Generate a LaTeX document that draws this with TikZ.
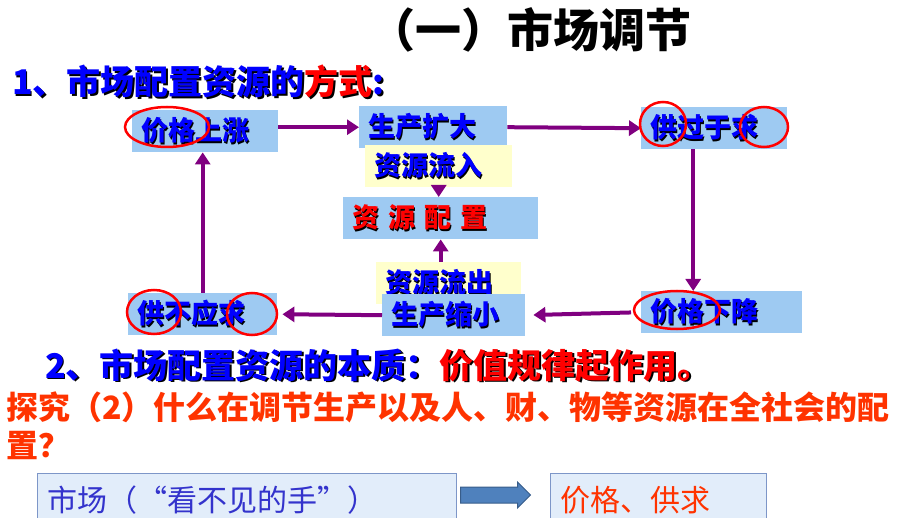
\documentclass[tikz,border=0pt]{standalone}
\usepackage{fontspec}
\setmainfont{Noto Sans CJK SC}
\usetikzlibrary{arrows.meta,shapes.arrows}
\definecolor{boxblue}{RGB}{158,202,242}
\definecolor{boxyellow}{RGB}{255,255,204}
\definecolor{flowpurple}{RGB}{128,0,128}
\definecolor{txtblue}{RGB}{0,0,255}
\definecolor{askred}{RGB}{255,51,0}
\definecolor{handblue}{RGB}{51,51,204}
\definecolor{paneledge}{RGB}{125,150,200}
\definecolor{panelfill}{RGB}{226,237,250}
\definecolor{bigarrow}{RGB}{79,129,189}
\definecolor{bigarrowedge}{RGB}{56,93,138}
\newcommand{\shad}[2]{\leavevmode\rlap{\hspace{1.6pt}\raisebox{-1.6pt}{\color{black}#2}}{\color{#1}#2}}
\tikzset{
  box/.style={fill=boxblue, anchor=north west, minimum height=42pt, inner xsep=9pt, inner ysep=0pt,
    text width=#1, align=left, font=\fontsize{27}{30}\selectfont\bfseries},
  ybox/.style={box=#1, fill=boxyellow},
  flow/.style={draw=flowpurple, line width=4pt, -{Triangle[length=12pt,width=15pt]}},
  ring/.style={draw=red, line width=2.5pt},
  head/.style={anchor=base west, inner sep=0pt},
  panel/.style={draw=paneledge, fill=panelfill, line width=1pt, anchor=north west, minimum height=54pt,
    inner xsep=10pt, text width=#1, align=left, font=\fontsize{30}{34}\selectfont}
}
\begin{document}
\begin{tikzpicture}[x=1pt,y=-1pt]
			\useasboundingbox (0,0) rectangle (920,518);

			\node[head, font=\fontsize{46}{50}\selectfont\bfseries] (title)at(369,48) {（一）市场调节};
			\node[head, font=\fontsize{34}{38}\selectfont\bfseries] (way)at(12,95) {\shad{txtblue}{1、市场配置资源的}\shad{red}{方式}\shad{txtblue}{:}};

			\node[box=128pt] (zhang)at(132,110) {\shad{txtblue}{价格上涨}};
			\node[box=130pt] (kuoda)at(359,106) {\shad{txtblue}{生产扩大}};
			\node[ybox=129pt] (liuru)at(365,145) {\shad{txtblue}{资源流入}};
			\node[box=177pt] (peizhi)at(343,197) {\shad{red}{资\hspace{9pt}源\hspace{9pt}配\hspace{9pt}置}};
			\node[box=128pt] (gongguo)at(641,107) {\shad{txtblue}{供过于求}};
			\node[box=143pt] (xiajiang)at(641,291) {\shad{txtblue}{价格下降}};
			\node[ybox=127pt] (liuchu)at(376,262) {\shad{txtblue}{资源流出}};
			\node[box=125pt] (suoxiao)at(382,294) {\shad{txtblue}{生产缩小}};
			\node[box=131pt] (buying)at(128,293) {\shad{txtblue}{供不应求}};

			\draw[flow] (zhang.east |- kuoda.west) -- (kuoda.west);
			\draw[flow] (kuoda.east) -- (gongguo.west);
			\draw[flow] ([xshift=-21pt]gongguo.south) -- ([xshift=-21pt]gongguo.south |- xiajiang.north);
			\draw[flow, shorten <=10pt, shorten >=8pt] (xiajiang.west) -- (suoxiao.east);
			\draw[flow, shorten >=5pt] (suoxiao.west) -- (buying.east);
			\draw[flow] (buying.north) -- (buying.north |- zhang.south);
			\draw[flow] (liuru.south) -- (liuru.south |- peizhi.north);
			\draw[flow] (peizhi.south |- liuchu.north) -- (peizhi.south);

			\draw[ring] (167,127) ellipse [x radius=42pt, y radius=20pt];
			\draw[ring] (663,124) ellipse [x radius=23pt, y radius=22pt];
			\draw[ring] (764,127) ellipse [x radius=24pt, y radius=20pt];
			\draw[ring] (677,310) ellipse [x radius=43pt, y radius=19pt];
			\draw[ring] (154,312) ellipse [x radius=27pt, y radius=22pt];
			\draw[ring] (252,314) ellipse [x radius=25pt, y radius=21pt];

			\node[head, font=\fontsize{34}{38}\selectfont\bfseries] (essence)at(45,378) {\shad{txtblue}{2、市场配置资源的本质：}\shad{red}{价值规律起作用。}};
			\node[head, font=\fontsize{32}{36}\selectfont\bfseries, text=askred] (ask)at(6,419) {探究（2）什么在调节生产以及人、财、物等资源在全社会的配};
			\node[head, font=\fontsize{32}{36}\selectfont\bfseries, text=askred] (ask2)at(6,457) {置？};

			\node[panel=399pt, text=handblue] (shichang)at(37,473) {市场（“看不见的手”）};
			\node[panel=196pt, text=askred] (gongqiu)at(550,473) {价格、供求};
			\node[single arrow, fill=bigarrow, draw=bigarrowedge, line width=1pt, anchor=west,
				inner xsep=0pt, inner ysep=7.5pt, minimum height=70pt, single arrow head extend=5pt] (push)at(460,495) {};
		\end{tikzpicture}
\end{document}
